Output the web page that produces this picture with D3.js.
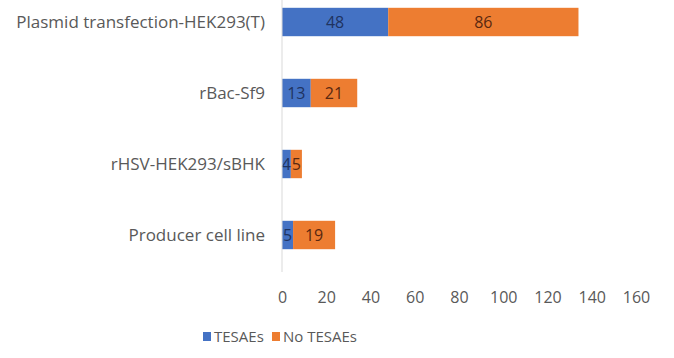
<!DOCTYPE html>
<html>
<head>
<meta charset="utf-8">
<script src="https://cdn.jsdelivr.net/npm/d3@7"></script>
<style>
  body { margin: 0; background: #fff; }
  text { font-family: "Open Sans", sans-serif; }
</style>
</head>
<body>
<div id="container"></div>
<script>
var categories = ["Plasmid transfection-HEK293(T)", "rBac-Sf9", "rHSV-HEK293/sBHK", "Producer cell line"];
var tesaes = [48, 13, 4, 5];
var noTesaes = [86, 21, 5, 19];
var seriesNames = ["TESAEs", "No TESAEs"];
var colors = ["#4472c4", "#ed7d31"];
var labelColors = ["#1f3360", "#5a2810"];
var xTicks = [0, 20, 40, 60, 80, 100, 120, 140, 160];

var svg_width = 674, svg_height = 358;

var data = categories.map(function(c, i) {
  return { cat: c, TESAEs: tesaes[i], "No TESAEs": noTesaes[i] };
});
var stacked = d3.stack().keys(seriesNames)(data);

var x = d3.scaleLinear().domain([0, 160]).range([282, 636]);
var y = d3.scaleBand().domain(categories).range([-13.5, 270.5]).paddingInner(0.6).paddingOuter(0.3);

var svg = d3.select("#container")
  .append("svg")
  .attr("width", svg_width)
  .attr("height", svg_height);

// bars
var layer = svg.selectAll("g.layer")
  .data(stacked)
  .enter()
  .append("g")
  .attr("class", "layer")
  .attr("fill", function(d, i) { return colors[i]; });

layer.selectAll("rect")
  .data(function(d) { return d; })
  .enter()
  .append("rect")
  .attr("x", function(d) { return x(d[0]); })
  .attr("y", function(d) { return y(d.data.cat); })
  .attr("width", function(d) { return x(d[1]) - x(d[0]); })
  .attr("height", y.bandwidth());

// value labels
stacked.forEach(function(s, si) {
  svg.append("g").selectAll("text")
    .data(s)
    .enter()
    .append("text")
    .attr("x", function(d) { return (x(d[0]) + x(d[1])) / 2; })
    .attr("y", function(d) { return y(d.data.cat) + y.bandwidth() / 2; })
    .attr("dy", "0.35em")
    .attr("text-anchor", "middle")
    .style("font-size", "16px")
    .style("fill", labelColors[si])
    .text(function(d) { return d[1] - d[0]; });
});

// vertical axis line + category labels
svg.append("line")
  .attr("x1", x(0)).attr("x2", x(0))
  .attr("y1", 0).attr("y2", 272)
  .attr("stroke", "#d9d9d9");

svg.append("g").selectAll("text")
  .data(categories)
  .enter()
  .append("text")
  .attr("x", 265)
  .attr("y", function(d) { return y(d) + y.bandwidth() / 2; })
  .attr("dy", "0.35em")
  .attr("text-anchor", "end")
  .style("font-size", "17px")
  .style("fill", "#595959")
  .text(function(d) { return d; });

// x axis tick labels
var xAxis = svg.append("g")
  .attr("transform", "translate(0,290)")
  .call(d3.axisBottom(x).tickValues(xTicks).tickSize(0).tickPadding(0));
xAxis.select(".domain").remove();
xAxis.selectAll("text")
  .style("font-size", "16px")
  .style("fill", "#595959")
  .style("font-family", "'Open Sans', sans-serif")
  .attr("dy", "0.35em")
  .attr("y", 7);

// legend
var legend = svg.append("g").attr("transform", "translate(0,337)");
var legendX = [203, 272];
seriesNames.forEach(function(n, i) {
  legend.append("rect")
    .attr("x", legendX[i]).attr("y", -5)
    .attr("width", 8).attr("height", 9)
    .attr("fill", colors[i]);
  legend.append("text")
    .attr("x", legendX[i] + 11).attr("y", 0)
    .attr("dy", "0.35em")
    .style("font-size", "15px")
    .style("fill", "#595959")
    .text(n);
});
</script>
</body>
</html>
